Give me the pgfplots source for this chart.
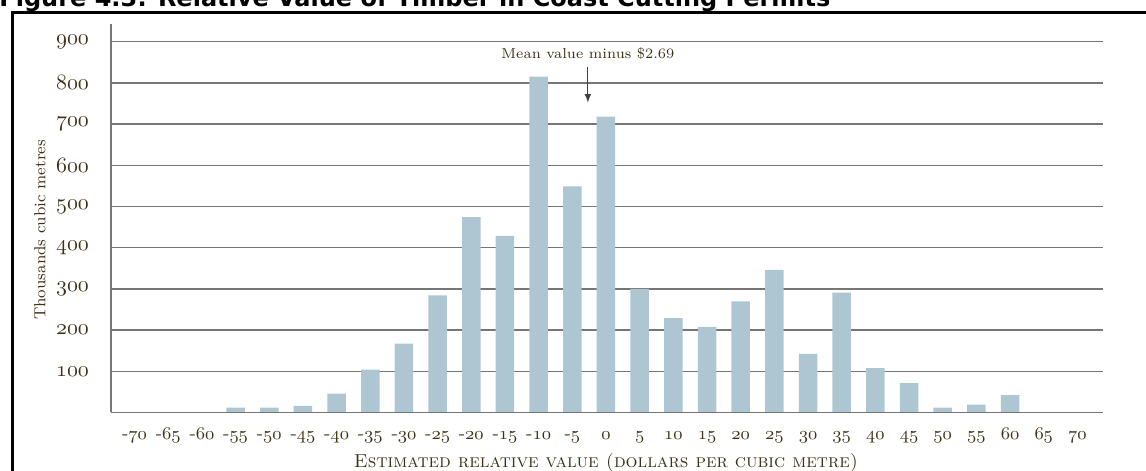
\documentclass[border=0pt]{standalone}
\usepackage{pgfplots}
\pgfplotsset{compat=1.18}
\usepackage{fontspec}
\newfontfamily\titlefont{DejaVu Sans}
\definecolor{barcol}{RGB}{174,198,209}
\definecolor{gridcol}{RGB}{118,118,118}
\definecolor{txt}{RGB}{62,48,22}
% old-style figures from the OML math italic font
\newcommand{\os}[1]{\mbox{\usefont{OML}{cmm}{m}{it}#1}}

\begin{document}
\begin{tikzpicture}
% page = 1146x471 px at 0.5pt per px
\path[use as bounding box] (0,0) rectangle (573pt,235.5pt);
\draw[line width=1.5pt] (6pt,-5pt) -- (6pt,229.2pt) -- (590pt,229.2pt);
\node[anchor=base west, inner sep=0pt] at (-0.5pt,232pt)
  {\titlefont\bfseries\fontsize{12}{14}\selectfont Figure 4.3: Relative Value of Timber in Coast Cutting Permits};
\begin{axis}[
    at={(55.5pt,29.25pt)}, anchor=south west,
    scale only axis, width=496pt, height=194.25pt,
    xmin=-73.5, xmax=73.8, ymin=0, ymax=943,
    axis lines*=left,
    axis line style={gridcol, line width=0.7pt},
    ymajorgrids,
    grid style={gridcol, line width=0.7pt},
    major tick length=0pt,
    xtick={-70,-65,...,70},
    xticklabels={-\os{70},-\os{65},-\os{60},-\os{55},-\os{50},-\os{45},-\os{40},-\os{35},-\os{30},-\os{25},-\os{20},-\os{15},-\os{10},-\os{5},\os{0},\os{5},\os{10},\os{15},\os{20},\os{25},\os{30},\os{35},\os{40},\os{45},\os{50},\os{55},\os{60},\os{65},\os{70}},
    ytick={100,200,...,900},
    yticklabels={\os{100},\os{200},\os{300},\os{400},\os{500},\os{600},\os{700},\os{800},\os{900}},
    tick label style={txt},
    xticklabel style={anchor=base, yshift=-13.75pt, font=\fontsize{9.5}{11}\selectfont},
    yticklabel style={anchor=east, xshift=-7.5pt, font=\fontsize{10.5}{12}\selectfont},
    ylabel={Thousands cubic metres},
    ylabel style={at={(axis description cs:-0.0716,0.47)}, anchor=center, txt, font=\fontsize{8}{9}\selectfont},
    xlabel={\textsc{Estimated relative value (dollars per cubic metre)}},
    xlabel style={at={(axis cs:0,0)}, anchor=base, yshift=-27.75pt, txt, font=\fontsize{9.4}{10}\selectfont},
]
\addplot[ybar, bar width=9.25pt, bar shift=0pt, fill=barcol, draw=none] coordinates {
  (-55,12) (-50,12) (-45,16) (-40,46) (-35,104) (-30,167) (-25,284)
  (-20,474) (-15,429) (-10,815) (-5,549) (0,718) (5,300) (10,229)
  (15,208) (20,270) (25,346) (30,142) (35,291) (40,108) (45,71)
  (50,12) (55,19) (60,42)
};
\draw[gridcol, line width=0.7pt] (rel axis cs:0,0) -- (rel axis cs:1,0);
\node[txt, anchor=base, font=\fontsize{7.2}{8}\selectfont, inner sep=0pt] at (axis cs:-2.69,859) {Mean value minus \$2.69};
\draw[-latex, line width=0.5pt, black!75] (axis cs:-2.69,839) -- (axis cs:-2.69,752);
\end{axis}
\end{tikzpicture}
\end{document}
